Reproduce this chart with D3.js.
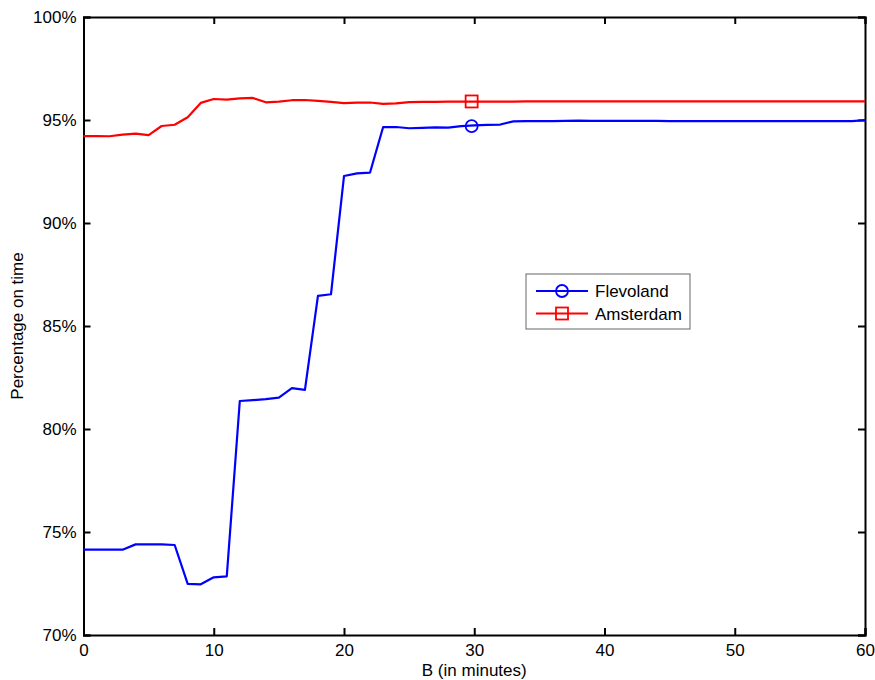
<!DOCTYPE html>
<html>
<head>
<meta charset="utf-8">
<script src="https://cdn.jsdelivr.net/npm/d3@7"></script>
<style>
  body { margin: 0; background: #fff; }
  svg text { font-family: "Liberation Sans", Arial, sans-serif; fill: #000; }
</style>
</head>
<body>
<div id="chart"></div>
<script>
// minutes B (x values)
const minutes = d3.range(0, 61);

// Flevoland, percentage on time
const flevoland = [
  74.14, 74.14, 74.14, 74.14, 74.40, 74.40, 74.40, 74.37, 72.48, 72.46,
  72.80, 72.85, 81.36, 81.40, 81.45, 81.52, 81.98, 81.90, 86.46, 86.54,
  92.28, 92.41, 92.45, 94.65, 94.66, 94.60, 94.62, 94.64, 94.63, 94.70,
  94.74, 94.76, 94.78, 94.93, 94.95, 94.95, 94.95, 94.96, 94.97, 94.96,
  94.96, 94.96, 94.96, 94.96, 94.96, 94.95, 94.95, 94.95, 94.95, 94.95,
  94.95, 94.95, 94.95, 94.95, 94.95, 94.95, 94.95, 94.95, 94.95, 94.95,
  94.99
];

// Amsterdam, percentage on time
const amsterdam = [
  94.22, 94.22, 94.21, 94.29, 94.34, 94.27, 94.71, 94.77, 95.13, 95.83,
  96.02, 95.99, 96.05, 96.07, 95.86, 95.89, 95.96, 95.97, 95.93, 95.88,
  95.82, 95.84, 95.85, 95.78, 95.81, 95.87, 95.88, 95.88, 95.89, 95.89,
  95.89, 95.89, 95.89, 95.89, 95.90, 95.90, 95.90, 95.90, 95.90, 95.90,
  95.90, 95.90, 95.90, 95.90, 95.90, 95.90, 95.90, 95.90, 95.90, 95.90,
  95.90, 95.90, 95.90, 95.90, 95.90, 95.90, 95.90, 95.90, 95.90, 95.90,
  95.90
];

// single marker per line (as in the figure)
const markerX = 29.8;
const markerY = { Flevoland: 94.70, Amsterdam: 95.90 };

const xTicks = [0, 10, 20, 30, 40, 50, 60];
const yTicks = [70, 75, 80, 85, 90, 95, 100];

const series = [
  { name: "Flevoland", values: flevoland, color: "#0000ff", marker: "circle" },
  { name: "Amsterdam", values: amsterdam, color: "#ff0000", marker: "square" }
];

const width = 875, height = 680;
const margin = { top: 17, right: 10, bottom: 45, left: 83.5 };
const fontSize = "17px";

const svg = d3.select("#chart")
  .append("svg")
  .attr("width", width)
  .attr("height", height);

const x = d3.scaleLinear().domain([0, 60]).range([margin.left, width - margin.right]);
const y = d3.scaleLinear().domain([70, 100]).range([height - margin.bottom, margin.top]);

const tickLen = 7;

// axes (MATLAB style box with inward ticks)
const g = svg.append("g");

g.append("g")
  .attr("transform", "translate(0," + y(70) + ")")
  .call(d3.axisBottom(x).tickValues(xTicks).tickSize(-tickLen).tickPadding(9).tickFormat(d3.format("d")));

g.append("g")
  .attr("transform", "translate(0," + y(100) + ")")
  .call(d3.axisTop(x).tickValues(xTicks).tickSize(-tickLen).tickFormat(""));

g.append("g")
  .attr("transform", "translate(" + x(0) + ",0)")
  .call(d3.axisLeft(y).tickValues(yTicks).tickSize(-tickLen).tickPadding(7).tickFormat(d => d + "%"));

g.append("g")
  .attr("transform", "translate(" + x(60) + ",0)")
  .call(d3.axisRight(y).tickValues(yTicks).tickSize(-tickLen).tickFormat(""));

g.selectAll(".domain").attr("stroke", "#000").attr("stroke-width", 2);
g.selectAll(".tick line").attr("stroke", "#000").attr("stroke-width", 2);
g.selectAll(".tick text").style("font-size", fontSize);

// lines
const line = d3.line()
  .x((d, i) => x(minutes[i]))
  .y(d => y(d));

const drawMarker = (sel, type, cx, cy, color) => {
  if (type === "circle") {
    sel.append("circle")
      .attr("cx", cx).attr("cy", cy).attr("r", 6)
      .attr("fill", "none").attr("stroke", color).attr("stroke-width", 1.8);
  } else {
    sel.append("rect")
      .attr("x", cx - 6).attr("y", cy - 6).attr("width", 12).attr("height", 12)
      .attr("fill", "none").attr("stroke", color).attr("stroke-width", 1.8);
  }
};

series.forEach(s => {
  svg.append("path")
    .datum(s.values)
    .attr("d", line)
    .attr("fill", "none")
    .attr("stroke", s.color)
    .attr("stroke-width", 2.2)
    .attr("stroke-linejoin", "round");
  drawMarker(svg, s.marker, x(markerX), y(markerY[s.name]), s.color);
});

// axis labels
svg.append("text")
  .attr("x", x(30))
  .attr("y", 676)
  .attr("text-anchor", "middle")
  .style("font-size", fontSize)
  .text("B (in minutes)");

svg.append("text")
  .attr("transform", "translate(23," + y(85) + ") rotate(-90)")
  .attr("text-anchor", "middle")
  .style("font-size", fontSize)
  .text("Percentage on time");

// legend
const legend = svg.append("g").attr("transform", "translate(526,274)");
legend.append("rect")
  .attr("width", 164).attr("height", 55)
  .attr("fill", "#fff").attr("stroke", "#666").attr("stroke-width", 1);

series.forEach((s, i) => {
  const ly = 17 + i * 22.5;
  legend.append("line")
    .attr("x1", 10).attr("x2", 62).attr("y1", ly).attr("y2", ly)
    .attr("stroke", s.color).attr("stroke-width", 2.2);
  drawMarker(legend, s.marker, 36, ly, s.color);
  legend.append("text")
    .attr("x", 69).attr("y", ly + 6)
    .style("font-size", fontSize)
    .text(s.name);
});
</script>
</body>
</html>
